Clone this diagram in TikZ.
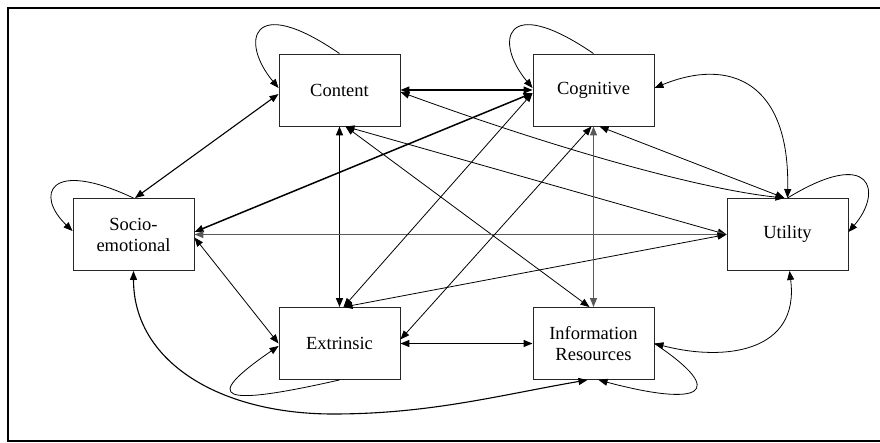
\documentclass[tikz,border=0pt]{standalone}
\usepackage{fontspec}
\setmainfont{Liberation Serif}
\usetikzlibrary{arrows.meta}
\begin{document}
\begin{tikzpicture}[x=1pt,y=1pt,
  >={Triangle[length=9pt,width=7pt]},
  box/.style={draw=black!85, line width=0.9pt, minimum width=121pt, minimum height=72pt,
    inner sep=0pt, align=center, font=\fontsize{18.5}{21}\selectfont},
  lnthin/.style={line width=0.8pt},
  lnmed/.style={line width=1.1pt},
  lnthick/.style={line width=1.5pt},
  lngray/.style={line width=1.2pt, draw=black!65},
]
\useasboundingbox (0,0) rectangle (880,442);
\draw[line width=2pt] (880,433.7) -- (7.5,433.7) -- (7.5,1) -- (880,1);

\node[box] (content) at (339.5,352) {Content};
\node[box] (cognitive) at (593.5,352) {Cognitive};
\node[box] (socio) at (133.5,207.5) {Socio-\\emotional};
\node[box] (utility) at (787.5,207.5) {Utility};
\node[box] (extrinsic) at (339.5,98.5) {Extrinsic};
\node[box] (infores) at (593.5,98.5) {Information\\Resources};

% self loops
\draw[lnthin,->] (content.north) .. controls (250,450) and (240,400) .. ([yshift=2pt]content.west);
\draw[lnthin,->] (cognitive.north) .. controls (503.5,450) and (494,400) .. ([yshift=2pt]cognitive.west);
\draw[lnthin,->] (socio.north) .. controls (48.5,284) and (35,247) .. ([yshift=3.5pt]socio.west);
\draw[lnthin,->] (utility.north) .. controls (872.5,296) and (883,250) .. ([yshift=2.5pt]utility.east);
\draw[lnthin,->] (extrinsic.south) .. controls (220,35) and (200,42) .. ([yshift=-2.5pt]extrinsic.west);
\draw[lnthin,->] (infores.east) .. controls (730,48) and (700,35) .. ([xshift=5pt]infores.south);

% connectors
\draw[lnmed,<->] ([yshift=-4pt]content.west) -- ([xshift=1.5pt]socio.north);
\draw[lnmed,<->] (content.east) -- (cognitive.west);
\draw[lnthin,<->] ([yshift=-2pt]content.east) .. controls (560,292) and (700,253) .. ([xshift=-3pt]utility.north);
\draw[lnthin,<->] ([xshift=6pt]content.south) -- ([xshift=-4pt]infores.north);
\draw[lnthin,<->] ([xshift=6pt]content.south) -- (utility.west);
\draw[lnthick,<->] (content.south) -- (extrinsic.north);
\draw[lnthick,<->] ([yshift=2.5pt]socio.east) -- ([yshift=-3pt]cognitive.west);
\draw[lngray,<->] (socio.east) -- (utility.west);
\draw[lnthin,<->] ([yshift=-3pt]socio.east) -- (extrinsic.west);
\draw[lnmed,<->] (socio.south) .. controls (133.5,80) and (220,28) .. (333,28)
   .. controls (430,28) and (500,47) .. ([xshift=-6pt]infores.south);
\draw[lnthin,<->] ([yshift=4pt]extrinsic.east) -- ([xshift=-2pt]cognitive.south);
\draw[lnthin,<->] ([xshift=4pt]extrinsic.north) -- ([yshift=-3pt]cognitive.west);
\draw[lnthin,<->] ([xshift=4pt]extrinsic.north) -- (utility.west);
\draw[lnmed,<->] (extrinsic.east) -- (infores.west);
\draw[lngray,<->] (cognitive.south) -- (infores.north);
\draw[lnthin,<->] ([xshift=6pt]cognitive.south) -- ([xshift=-3pt]utility.north);
\draw[lnthin,<->] ([yshift=2pt]cognitive.east) .. controls (730,385) and (790,360) .. (utility.north);
\draw[lnthin,<->] ([xshift=2pt]utility.south) .. controls (800,90) and (725,80) .. (infores.east);
\end{tikzpicture}
\end{document}
